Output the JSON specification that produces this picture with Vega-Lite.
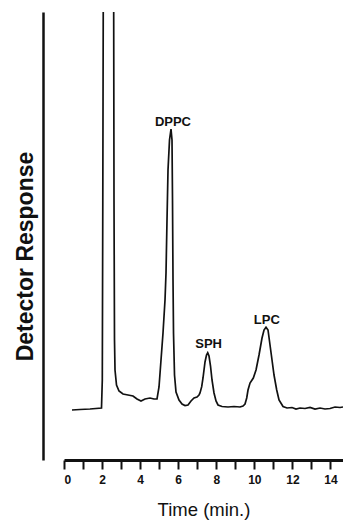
{
  "$schema": "https://vega.github.io/schema/vega-lite/v6.json",
  "autosize": {"type": "none"},
  "padding": {"left": 64, "top": 12, "right": 0, "bottom": 62},
  "width": 279,
  "height": 448,
  "background": "white",
  "config": {"view": {"stroke": null}, "font": "Liberation Sans"},
  "datasets": {
    "trace": [
      {"px": 72, "py": 410}, {"px": 80, "py": 409.5}, {"px": 90, "py": 409}, {"px": 101.5, "py": 408},
      {"px": 102.3, "py": 380}, {"px": 102.8, "py": 200}, {"px": 103.5, "py": -100}, {"px": 113.5, "py": -100},
      {"px": 114, "py": 200}, {"px": 114.5, "py": 340}, {"px": 115, "py": 370}, {"px": 116.5, "py": 385},
      {"px": 119, "py": 391}, {"px": 123, "py": 394}, {"px": 128, "py": 395}, {"px": 133, "py": 396},
      {"px": 137, "py": 399}, {"px": 141, "py": 401}, {"px": 145, "py": 399}, {"px": 150, "py": 398},
      {"px": 154, "py": 399}, {"px": 157, "py": 399},
      {"px": 159, "py": 387}, {"px": 161, "py": 360}, {"px": 163, "py": 333}, {"px": 165, "py": 300},
      {"px": 166, "py": 273}, {"px": 167, "py": 220}, {"px": 168, "py": 170}, {"px": 169.5, "py": 140},
      {"px": 171, "py": 129}, {"px": 172, "py": 140}, {"px": 172.5, "py": 200}, {"px": 173, "py": 280},
      {"px": 173.5, "py": 333}, {"px": 174.5, "py": 375}, {"px": 176, "py": 392}, {"px": 179, "py": 400},
      {"px": 182, "py": 404}, {"px": 185, "py": 405.5}, {"px": 188, "py": 405}, {"px": 191, "py": 401},
      {"px": 194, "py": 398}, {"px": 197, "py": 397}, {"px": 199, "py": 395},
      {"px": 200, "py": 393}, {"px": 201.7, "py": 386.7}, {"px": 203, "py": 378}, {"px": 205, "py": 362},
      {"px": 206.5, "py": 355}, {"px": 207.7, "py": 352.7}, {"px": 209, "py": 356}, {"px": 210.5, "py": 366},
      {"px": 212, "py": 380}, {"px": 214, "py": 393}, {"px": 216, "py": 401}, {"px": 218, "py": 405},
      {"px": 222, "py": 406.5}, {"px": 228, "py": 407}, {"px": 234, "py": 406.5}, {"px": 240, "py": 407},
      {"px": 243, "py": 406},
      {"px": 245, "py": 404}, {"px": 246.7, "py": 398}, {"px": 248, "py": 390}, {"px": 250, "py": 383},
      {"px": 253.3, "py": 378}, {"px": 256, "py": 370}, {"px": 259, "py": 355}, {"px": 262, "py": 338},
      {"px": 264, "py": 330}, {"px": 266, "py": 327.3}, {"px": 268, "py": 330}, {"px": 270, "py": 345},
      {"px": 272, "py": 360}, {"px": 274, "py": 375}, {"px": 276.7, "py": 390}, {"px": 279, "py": 400},
      {"px": 283, "py": 406.5}, {"px": 287, "py": 408}, {"px": 292, "py": 407.5}, {"px": 296, "py": 409},
      {"px": 300, "py": 408}, {"px": 305, "py": 408.5}, {"px": 310, "py": 407.5}, {"px": 315, "py": 409},
      {"px": 320, "py": 408}, {"px": 325, "py": 409}, {"px": 330, "py": 408.5}, {"px": 335, "py": 407},
      {"px": 340, "py": 407.5}, {"px": 343, "py": 407}
    ],
    "labels": [
      {"time": 5.725, "response": 334.5, "label": "DPPC"},
      {"time": 7.6, "response": 112, "label": "SPH"},
      {"time": 10.66, "response": 136, "label": "LPC"}
    ]
  },
  "encoding": {
    "x": {
      "field": "time", "type": "quantitative",
      "scale": {"domain": [0, 14.66], "nice": false, "zero": false},
      "axis": {
        "values": [0,1,2,3,4,5,6,7,8,9,10,11,12,13,14],
        "tickCount": 15,
        "labelExpr": "datum.value % 2 == 0 ? datum.label : ''",
        "labelOverlap": false,
        "grid": false,
        "domainColor": "#111111", "domainWidth": 3,
        "tickColor": "#111111", "tickWidth": 2, "tickSize": 9,
        "labelFont": "Liberation Sans", "labelFontWeight": "bold", "labelFontSize": 12,
        "labelColor": "#111111", "labelPadding": 5,
        "title": "Time (min.)",
        "titleFont": "Liberation Sans", "titleFontSize": 18.5, "titleFontWeight": "normal",
        "titleColor": "#111111", "titlePadding": 15
      }
    },
    "y": {
      "field": "response", "type": "quantitative",
      "scale": {"domain": [0, 448], "nice": false},
      "axis": {
        "labels": false, "ticks": false, "grid": false,
        "domainColor": "#111111", "domainWidth": 2.5, "offset": 21,
        "title": "Detector Response",
        "titleFont": "Liberation Sans", "titleFontSize": 23, "titleFontWeight": "bold",
        "titleColor": "#111111", "titlePadding": 6, "titleY": 244
      }
    }
  },
  "layer": [
    {
      "data": {"name": "trace"},
      "transform": [
        {"calculate": "(datum.px - 64) / 19.03", "as": "time"},
        {"calculate": "460 - datum.py", "as": "response"}
      ],
      "mark": {"type": "line", "clip": true, "color": "#111111", "strokeWidth": 1.7, "interpolate": "linear"}
    },
    {
      "data": {"name": "labels"},
      "mark": {"type": "text", "font": "Liberation Sans", "fontWeight": "bold", "fontSize": 13, "color": "#111111", "baseline": "alphabetic", "align": "center"},
      "encoding": {
        "text": {"field": "label"}
      }
    }
  ]
}
